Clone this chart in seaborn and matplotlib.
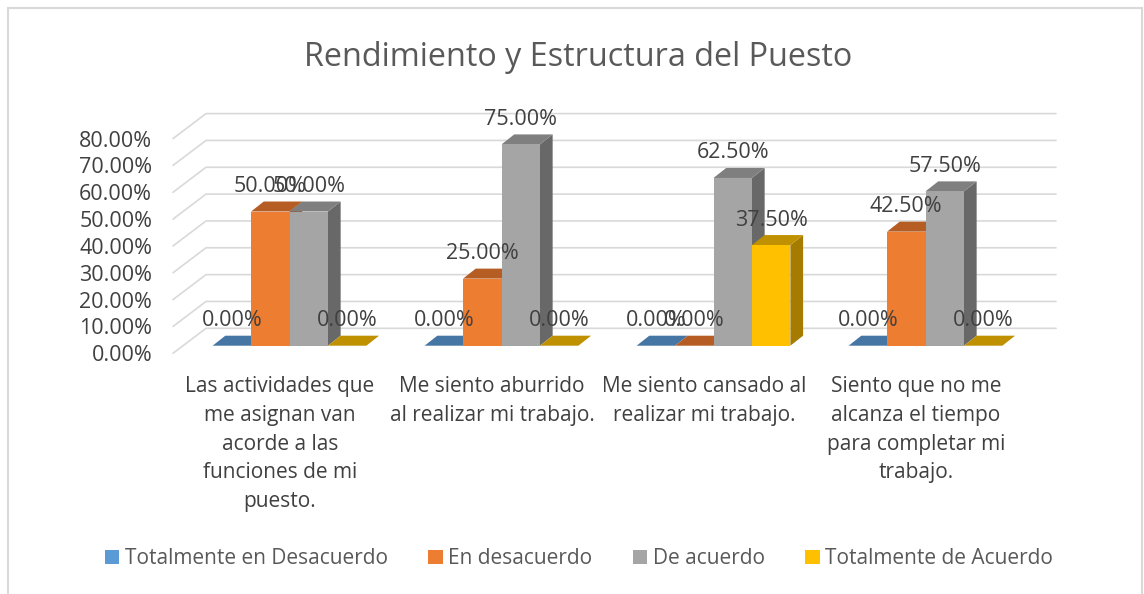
import matplotlib
matplotlib.use("Agg")
import matplotlib.pyplot as plt
from matplotlib.patches import Polygon, Rectangle
from matplotlib.transforms import Affine2D
import pandas as pd
import seaborn as sns

# chart values
preguntas = [
    "Las actividades que\nme asignan van\nacorde a las\nfunciones de mi\npuesto.",
    "Me siento aburrido\nal realizar mi trabajo.",
    "Me siento cansado al\nrealizar mi trabajo.",
    "Siento que no me\nalcanza el tiempo\npara completar mi\ntrabajo.",
]
respuestas = ["Totalmente en Desacuerdo", "En desacuerdo", "De acuerdo", "Totalmente de Acuerdo"]
totalmente_desacuerdo = [0.0, 0.0, 0.0, 0.0]
en_desacuerdo = [0.50, 0.25, 0.0, 0.425]
de_acuerdo = [0.50, 0.75, 0.625, 0.575]
totalmente_acuerdo = [0.0, 0.0, 0.375, 0.0]
y_ticks = [0.0, 0.1, 0.2, 0.3, 0.4, 0.5, 0.6, 0.7, 0.8]

colores = ["#5B9BD5", "#ED7D31", "#A5A5A5", "#FFC000"]
colores_top = ["#4676A3", "#B55D23", "#7F7F7F", "#BF9000"]
colores_lado = ["#3A6186", "#9A4E1C", "#686868", "#A67C00"]
TEXTO = "#404040"
GRID = "#D9D9D9"

sns.set_style("white")
plt.rcParams["font.family"] = ["Open Sans", "DejaVu Sans"]

W, H = 1144, 594
fig = plt.figure(figsize=(W / 100, H / 100), dpi=100, facecolor="white")
# axes box is placed in pixels: x 173-1023, y from bar base (345.7) to 80% (131)
ax = fig.add_axes([173 / W, 1 - 345.7 / H, (1023 - 173) / W, (345.7 - 131) / H])
ax.patch.set_alpha(0)

df = pd.DataFrame({
    "pregunta": preguntas * 4,
    "respuesta": [r for r in respuestas for _ in preguntas],
    "valor": totalmente_desacuerdo + en_desacuerdo + de_acuerdo + totalmente_acuerdo,
})
sns.barplot(data=df, x="pregunta", y="valor", hue="respuesta", hue_order=respuestas,
            palette=colores, width=0.7255, gap=0, saturation=1, errorbar=None, ax=ax, legend=False)

# group 0 centre sits at pixel 289.5, groups are 212 px apart
ax.set_xlim((173 - 289.5) / 212, (1023 - 289.5) / 212)
ax.set_ylim(0, 0.8)
sns.despine(ax=ax, left=True, bottom=True)
ax.set_xlabel("")
ax.set_ylabel("")

pared = ax.get_yaxis_transform()  # x in axes fraction, y in data
adelante = pared + Affine2D().translate(0, -7.6)
atras = pared + Affine2D().translate(33, 17.4)
for v in y_ticks:
    p0 = adelante.transform((0, v))
    p1 = atras.transform((0, v))
    p2 = atras.transform((1, v))
    ax.plot([p0[0], p1[0], p2[0]], [p0[1], p1[1], p2[1]], color=GRID, lw=1.2,
            transform=None, zorder=0.5, clip_on=False)

# 3D look: side and top faces hung on the seaborn bars
DX, DY = 12.7, 10
barras = [p for p in ax.patches if isinstance(p, Rectangle)][:16]
orden = sorted(range(16), key=lambda i: barras[i].get_x())
for z, i in enumerate(orden):
    b = barras[i]
    s = i // 4
    x0, y0 = ax.transData.transform((b.get_x(), 0))
    x1, y1 = ax.transData.transform((b.get_x() + b.get_width(), b.get_height()))
    zz = 3 + z
    b.set_zorder(zz + 0.2)
    b.set_linewidth(0)
    lado = [(x1, y0), (x1 + DX, y0 + DY), (x1 + DX, y1 + DY), (x1, y1)]
    techo = [(x0, y1), (x1, y1), (x1 + DX, y1 + DY), (x0 + DX, y1 + DY)]
    ax.add_patch(Polygon(lado, closed=True, fc=colores_lado[s], ec="none", transform=None, zorder=zz, clip_on=False))
    ax.add_patch(Polygon(techo, closed=True, fc=colores_top[s], ec="none", transform=None, zorder=zz + 0.1, clip_on=False))
    ax.annotate(f"{b.get_height() * 100:.2f}%", (b.get_x() + b.get_width() / 2, b.get_height()),
                xytext=(0, 25), textcoords="offset pixels", ha="center", va="center",
                fontsize=15.5, color=TEXTO, zorder=40, annotation_clip=False)

# ticks
ax.set_yticks(y_ticks, [f"{v * 100:.2f}%" for v in y_ticks])
ax.tick_params(axis="y", length=0, labelsize=15.5, labelcolor=TEXTO, pad=15)
ax.tick_params(axis="x", length=0, labelsize=15, labelcolor=TEXTO, pad=22)
for t in ax.get_yticklabels():
    t.set_transform(t.get_transform() + Affine2D().translate(0, -7.6))
for t in ax.get_xticklabels():
    t.set_transform(t.get_transform() + Affine2D().translate(-9.5, 0))
    t.set_linespacing(1.48)

fig.text(578 / W, 1 - 57 / H, "Rendimiento y Estructura del Puesto", ha="center", va="center",
         fontsize=23.3, color="#595959")

handles = [Rectangle((0, 0), 1, 1, fc=c, ec="none") for c in colores]
fig.legend(handles, respuestas, loc="center", bbox_to_anchor=(579 / W, 1 - 559 / H), ncol=4, frameon=False,
           fontsize=15, labelcolor="#595959", handlelength=0.68, handleheight=0.68, handletextpad=0.27,
           columnspacing=1.95)

fig.add_artist(Rectangle((8 / W, -0.1), (1142 - 8) / W, 1.1 - 8 / H, fc="none", ec=GRID, lw=1.5,
                         transform=fig.transFigure))

fig.savefig("out.png", dpi=100)
